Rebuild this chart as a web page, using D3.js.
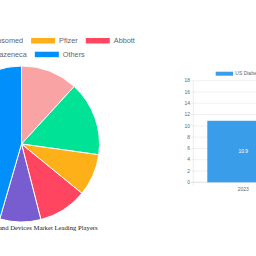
<!DOCTYPE html>
<html>
<head>
<script src="https://d3js.org/d3.v7.min.js"></script>
<style>
  body { margin: 0; background: #fff; overflow: hidden; }
</style>
</head>
<body>
<script>
var w = 256, h = 256

// pie: leading players (share, %)
var players = ['Sanofi', 'Ypsomed', 'Pfizer', 'Abbott', 'Astrazeneca', 'Others']
var shares = [11.8, 15.4, 8.7, 10.1, 8.5, 45.5]
var pieColors = ['#F9A3A4', '#00E396', '#FEB019', '#FF4560', '#775DD0', '#008FFB']

// bar: market size
var years = ['2023']
var marketSize = [10.9]
var yTicks = [0, 2, 4, 6, 8, 10, 12, 14, 16, 18]
var barLabel = 'US Diabetes Care Drugs and Devices Market'
var title = 'US Diabetes Care Drugs and Devices Market Leading Players'

var svg = d3.select('body').append('svg')
  .attr('width', w)
  .attr('height', h)

// ---- pie ----
var cx = 21.5, cy = 144, r = 78

var pie = d3.pie().sort(null).value(function(d){ return d })
var arc = d3.arc().innerRadius(0).outerRadius(r)

var g = svg.append('g').attr('transform', 'translate(' + cx + ',' + cy + ')')
g.selectAll('path')
  .data(pie(shares))
  .join('path')
  .attr('d', arc)
  .attr('fill', function(d, i){ return pieColors[i] })
  .attr('stroke', '#fff')
  .attr('stroke-width', 1)

// legend, wrapped in centered rows
var fs = 7.3, boxW = 24, boxH = 5.5, gap = 4, pad = 8, maxRow = 250
var tmp = svg.append('text').style('font', fs + 'px "Liberation Sans", Arial, sans-serif')
var items = players.map(function(p, i){
  tmp.text(p)
  return { name: p, color: pieColors[i], tw: tmp.node().getComputedTextLength() }
})
tmp.remove()

var rows = [[]], rowW = [0]
items.forEach(function(it){
  var iw = boxW + gap + it.tw
  var cur = rows.length - 1
  var add = rows[cur].length ? pad + iw : iw
  if (rowW[cur] + add > maxRow && rows[cur].length) {
    rows.push([it]); rowW.push(iw)
  } else {
    rows[cur].push(it); rowW[cur] += add
  }
})

rows.forEach(function(row, ri){
  var x = cx - rowW[ri] / 2
  var y = 38 + ri * 13.7
  row.forEach(function(it){
    svg.append('rect')
      .attr('x', x).attr('y', y)
      .attr('width', boxW).attr('height', boxH)
      .attr('fill', it.color)
    svg.append('text')
      .attr('x', x + boxW + gap)
      .attr('y', y + boxH / 2)
      .attr('dy', '0.35em')
      .attr('fill', '#666')
      .style('font', fs + 'px "Liberation Sans", Arial, sans-serif')
      .text(it.name)
    x += boxW + gap + it.tw + pad
  })
})

svg.append('text')
  .attr('x', 97.7)
  .attr('y', 229.5)
  .attr('text-anchor', 'end')
  .attr('fill', '#222')
  .style('font', '6.7px "Liberation Serif", "Times New Roman", serif')
  .text(title)

// ---- bar ----
var x0 = 193.3
var xScale = d3.scaleBand().domain(years).range([x0, x0 + 100]).paddingInner(0.28).paddingOuter(0.14)
var yScale = d3.scaleLinear().domain([0, 18]).range([182.3, 80.7])
var tickFont = '5px "Liberation Sans", Arial, sans-serif'

svg.selectAll('.grid')
  .data(yTicks)
  .join('line')
  .attr('x1', x0 - 2).attr('x2', w)
  .attr('y1', function(d){ return yScale(d) })
  .attr('y2', function(d){ return yScale(d) })
  .attr('stroke', function(d){ return d === 0 ? '#ccc' : '#e6e6e6' })
  .attr('stroke-width', 0.6)

svg.append('line')
  .attr('x1', x0).attr('x2', x0)
  .attr('y1', yScale(18)).attr('y2', yScale(0) + 3.5)
  .attr('stroke', '#ddd').attr('stroke-width', 0.6)

svg.selectAll('.ylab')
  .data(yTicks)
  .join('text')
  .attr('x', 190)
  .attr('y', function(d){ return yScale(d) })
  .attr('dy', '0.35em')
  .attr('text-anchor', 'end')
  .attr('fill', '#666')
  .style('font', tickFont)
  .text(function(d){ return d })

svg.selectAll('.bar')
  .data(marketSize)
  .join('rect')
  .attr('x', function(d, i){ return xScale(years[i]) })
  .attr('y', function(d){ return yScale(d) })
  .attr('width', xScale.bandwidth())
  .attr('height', function(d){ return yScale(0) - yScale(d) })
  .attr('fill', '#3A9DE9')

svg.selectAll('.val')
  .data(marketSize)
  .join('text')
  .attr('x', function(d, i){ return xScale(years[i]) + xScale.bandwidth() / 2 })
  .attr('y', function(d){ return (yScale(d) + yScale(0)) / 2 })
  .attr('dy', '0.35em')
  .attr('text-anchor', 'middle')
  .attr('fill', '#fff')
  .style('font', tickFont)
  .text(function(d){ return d })

svg.selectAll('.xlab')
  .data(years)
  .join('text')
  .attr('x', function(d){ return xScale(d) + xScale.bandwidth() / 2 })
  .attr('y', 189)
  .attr('dy', '0.35em')
  .attr('text-anchor', 'middle')
  .attr('fill', '#666')
  .style('font', tickFont)
  .text(function(d){ return d })

svg.append('rect')
  .attr('x', 215.7).attr('y', 71.7)
  .attr('width', 17.3).attr('height', 4)
  .attr('fill', '#3A9DE9')
svg.append('text')
  .attr('x', 235.3).attr('y', 73.7)
  .attr('dy', '0.35em')
  .attr('fill', '#666')
  .style('font', tickFont)
  .text(barLabel)
</script>
</body>
</html>
